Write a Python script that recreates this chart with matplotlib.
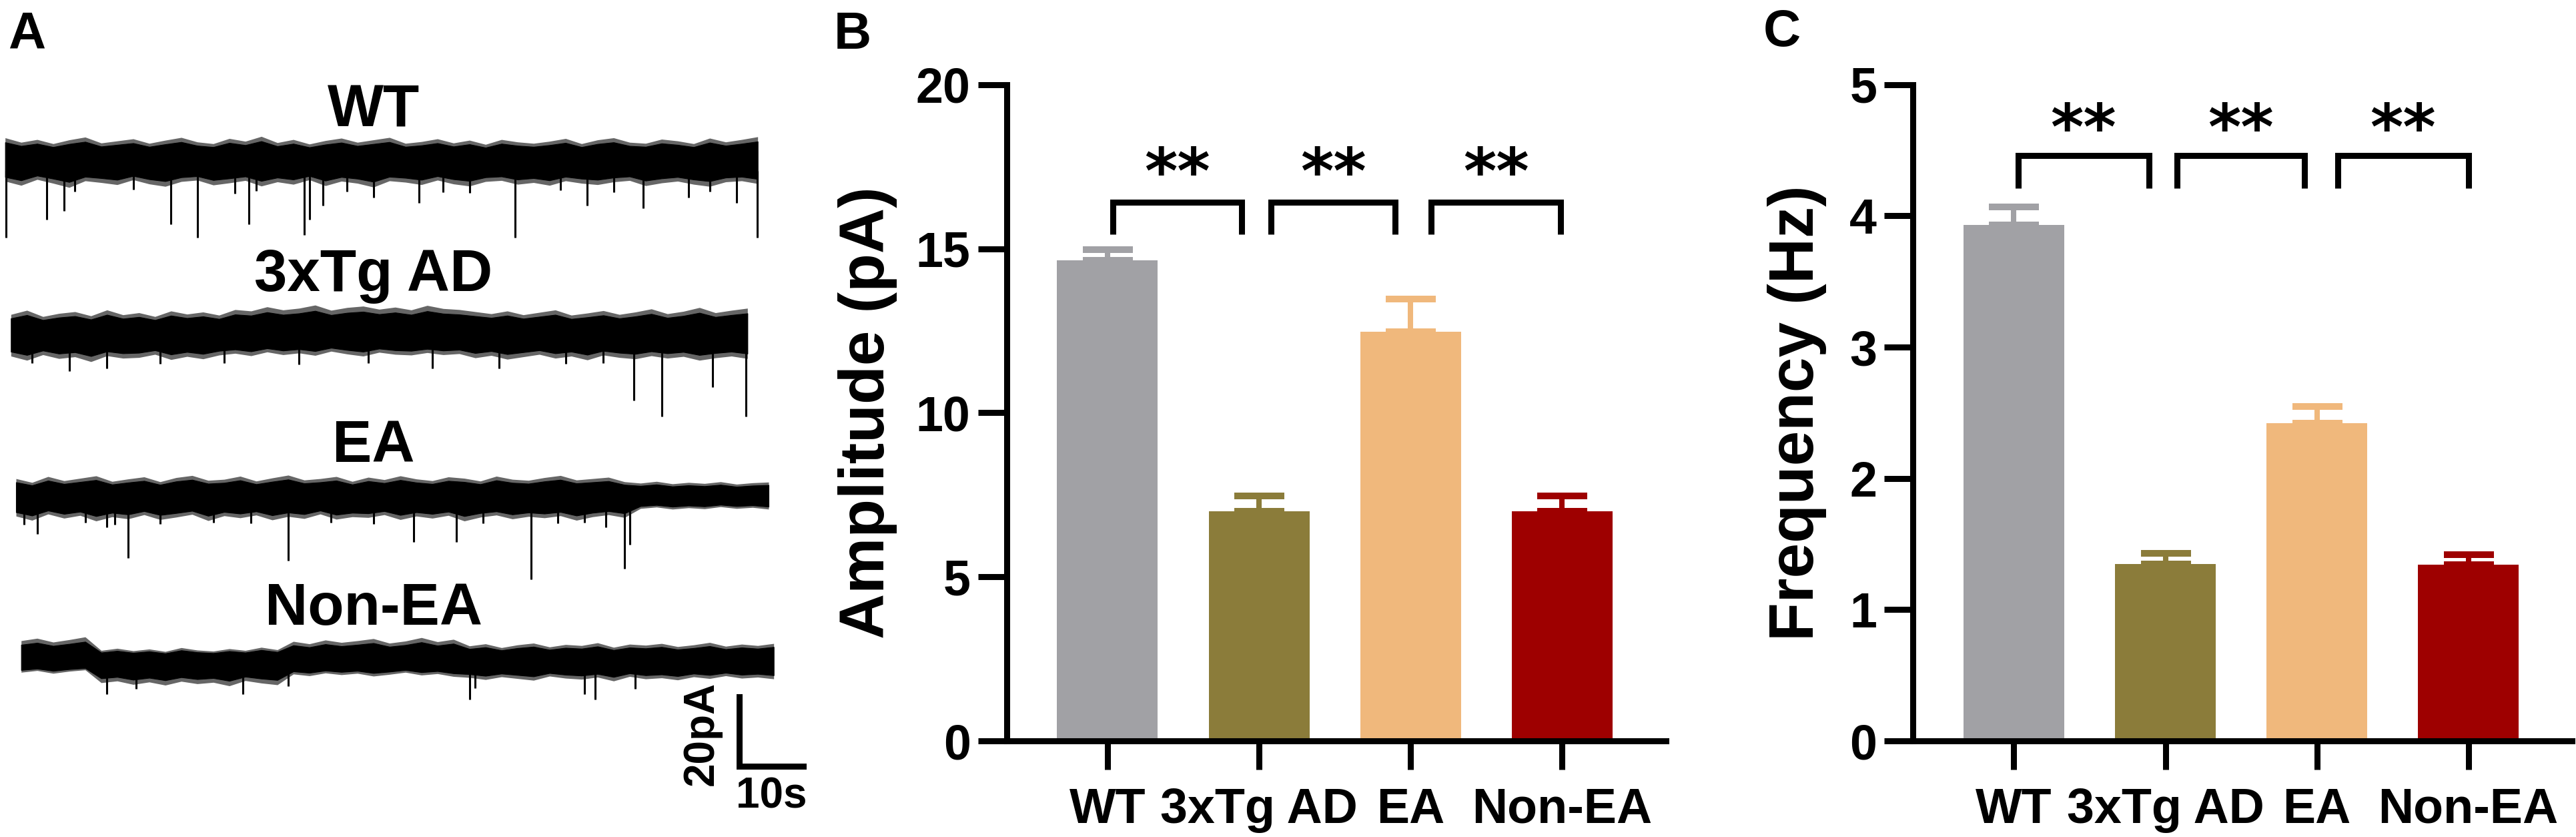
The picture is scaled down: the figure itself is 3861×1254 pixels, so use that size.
import matplotlib
matplotlib.use("Agg")
import matplotlib.pyplot as plt
import numpy as np

plt.rcParams['font.family'] = ['Liberation Sans', 'DejaVu Sans']
plt.rcParams['font.weight'] = 'bold'

# ---- panel B / C data ----
groups = ['WT', '3xTg AD', 'EA', 'Non-EA']
colors = ['#a1a1a5', '#8b7c3a', '#f0b87c', '#9e0000']

amp_mean = [14.64, 7.0, 12.47, 7.0]
amp_sem = [0.34, 0.46, 1.0, 0.46]
freq_mean = [3.93, 1.35, 2.42, 1.34]
freq_sem = [0.14, 0.08, 0.13, 0.08]

sig_pairs = [(0, 1), (1, 2), (2, 3)]
sig_text = ['**', '**', '**']

# ---- panel A traces (time in s, current in pA relative to baseline) ----
trace_names = ['WT', '3xTg AD', 'EA', 'Non-EA']
trace_t0 = [0.8, 1.7, 2.5, 3.3]
trace_dt = 2.5

wt_upper = [6.5, 5.2, 6.0, 4.8, 5.9, 6.7, 5.0, 5.6, 6.2, 4.9, 5.8, 6.6,
            5.3, 4.8, 6.3, 5.5, 6.9, 5.1, 6.0, 4.7, 5.7, 6.4, 5.2, 5.9,
            6.6, 4.9, 5.4, 6.2, 5.0, 5.8, 4.6, 6.0, 5.3, 4.9, 5.5, 6.3,
            4.8, 5.9, 6.5, 5.2, 4.9, 6.1, 5.6, 4.8, 6.4, 5.3, 6.0, 6.8]
wt_lower = [-6.0, -7.2, -5.5, -6.6, -7.8, -5.9, -6.4, -7.0, -5.6, -6.8, -7.5, -6.1,
            -5.7, -7.1, -6.5, -5.8, -7.4, -6.2, -6.9, -5.6, -7.3, -6.0, -6.6, -7.7,
            -5.9, -6.3, -7.0, -5.7, -6.8, -7.4, -6.1, -5.8, -6.9, -6.4, -7.2, -5.9,
            -6.6, -7.0, -6.2, -5.8, -7.3, -6.5, -6.0, -6.9, -7.5, -6.2, -5.9, -6.7]
wt_ev_t = [0.9, 7.3, 10.0, 11.7, 20.8, 26.7, 30.8, 36.7, 38.9, 40.0, 47.5, 48.3,
           50.4, 54.2, 58.3, 65.4, 69.2, 73.3, 80.4, 87.5, 91.7, 95.8, 100.4, 107.5,
           110.8, 115.0, 118.2]
wt_ev_amp = [22.3, 17.0, 14.6, 9.0, 8.5, 18.5, 22.3, 9.5, 18.5, 8.8, 21.5, 17.0,
             13.0, 9.0, 10.8, 12.3, 9.2, 9.3, 22.3, 8.7, 13.0, 9.2, 13.8, 10.8,
             9.0, 12.3, 22.3]

tg_upper = [5.6, 6.8, 5.0, 5.9, 6.4, 5.2, 6.9, 5.5, 6.1, 5.0, 6.6, 5.7,
            6.3, 5.4, 7.0, 6.6, 7.8, 6.9, 7.4, 8.3, 6.8, 7.6, 8.0, 7.1,
            7.7, 6.9, 8.2, 7.3, 7.0, 6.4, 5.8, 6.6, 5.5, 6.2, 6.9, 5.4,
            6.0, 6.7, 5.6, 6.3, 7.2, 5.8, 6.5, 7.6, 6.1, 6.8, 7.4]
tg_lower = [-6.4, -7.6, -6.0, -7.1, -6.6, -8.0, -6.3, -7.0, -6.8, -5.9, -7.4, -6.5,
            -7.2, -6.1, -5.6, -6.3, -5.2, -6.0, -5.5, -6.2, -5.0, -5.8, -6.4, -5.3,
            -5.9, -6.1, -5.4, -6.0, -5.7, -6.9, -6.2, -7.3, -6.6, -5.9, -7.0, -6.4,
            -7.5, -6.1, -6.8, -7.2, -6.3, -7.0, -6.5, -7.6, -6.9, -6.4, -7.1]
tg_ev_t = [5.0, 10.8, 16.7, 25.0, 35.0, 46.7, 57.5, 67.5, 77.9, 88.3, 94.2, 99.0,
           103.3, 111.3, 116.5]
tg_ev_amp = [8.5, 10.8, 10.0, 8.6, 8.4, 8.8, 8.5, 10.0, 10.0, 8.7, 8.5, 19.2,
             23.8, 15.4, 23.8]

ea_upper = [5.2, 4.1, 5.8, 4.6, 5.3, 6.0, 4.4, 5.1, 5.7, 4.3, 5.5, 6.1,
            4.7, 5.0, 5.9, 4.5, 5.4, 6.2, 4.8, 5.2, 5.8, 4.4, 5.6, 4.9,
            6.0, 5.1, 4.6, 5.7, 5.3, 4.5, 5.9, 5.0, 4.7, 5.5, 6.1, 4.8,
            5.2, 5.6, 4.3, 3.9, 4.4, 3.7, 4.1, 3.8, 4.3, 3.6, 4.0, 4.2]
ea_lower = [-5.6, -6.8, -5.0, -6.2, -5.4, -7.0, -5.8, -6.4, -5.2, -6.6, -5.9, -5.1,
            -6.9, -5.5, -6.1, -5.3, -6.7, -5.7, -6.3, -5.0, -6.5, -5.8, -6.0, -5.2,
            -6.6, -5.6, -6.2, -5.4, -7.0, -5.9, -5.3, -6.4, -5.7, -6.1, -5.5, -6.8,
            -5.8, -5.2, -6.0, -3.4, -3.0, -3.6, -3.2, -3.5, -2.9, -3.4, -3.1, -3.6]
ea_ev_t = [3.75, 5.8, 13.3, 16.7, 17.9, 20.0, 25.0, 33.3, 39.2, 45.0, 51.7, 58.3,
           64.6, 71.3, 75.4, 82.9, 87.1, 91.3, 94.6, 97.5, 98.3]
ea_ev_amp = [8.0, 10.8, 7.5, 8.9, 8.0, 17.7, 7.8, 7.4, 7.6, 18.5, 7.5, 7.8,
             13.0, 13.0, 7.6, 23.8, 7.7, 7.5, 8.9, 20.8, 13.8]

non_upper = [5.8, 6.5, 5.4, 6.1, 6.9, 3.0, 3.6, 2.9, 3.4, 2.7, 3.8, 3.1,
             2.8, 3.5, 3.0, 3.9, 3.2, 5.6, 4.9, 6.0, 5.3, 5.8, 6.4, 5.1,
             5.7, 6.7, 5.5, 6.2, 4.3, 4.9, 3.8, 4.6, 5.1, 4.0, 4.7, 4.4,
             5.2, 3.9, 4.8, 4.5, 5.0, 4.1, 4.6, 5.3, 4.2, 4.8, 4.4, 5.0]
non_lower = [-3.3, -2.8, -3.6, -3.0, -2.6, -6.3, -5.8, -6.8, -6.1, -7.0, -5.9, -6.6,
             -6.2, -7.2, -5.7, -6.4, -6.9, -3.8, -4.3, -3.5, -4.0, -3.6, -4.4, -3.9,
             -3.3, -4.1, -3.7, -4.5, -4.8, -5.4, -4.6, -5.1, -5.6, -4.4, -5.0, -5.3,
             -4.7, -5.8, -4.5, -5.2, -4.9, -5.5, -4.6, -5.1, -4.3, -5.0, -4.7, -5.2]
non_ev_t = [16.7, 21.3, 37.9, 45.0, 73.3, 74.2, 91.3, 92.9, 99.2]
non_ev_amp = [9.6, 8.0, 9.6, 7.3, 11.2, 7.9, 9.6, 11.2, 8.0]

trace_upper = [wt_upper, tg_upper, ea_upper, non_upper]
trace_lower = [wt_lower, tg_lower, ea_lower, non_lower]
trace_ev_t = [wt_ev_t, tg_ev_t, ea_ev_t, non_ev_t]
trace_ev_amp = [wt_ev_amp, tg_ev_amp, ea_ev_amp, non_ev_amp]

scale_pA = 20
scale_s = 10

# ---- figure ----
W, H = 3862, 1254
fig = plt.figure(figsize=(W / 100, H / 100), dpi=100)

# panel A: traces, drawn in (s, pA) with 9.6 px/s and 5.2 px/pA
axA = fig.add_axes([0, 0, 1254 / W, 1])
axA.set_xlim(0, 1254 / 9.6)
axA.set_ylim(-1254 / 5.2, 0)
axA.axis('off')

base_y = [-46.2, -96.2, -143.1, -190.4]
name_y = [-36.5, -83.8, -133.1, -180.0]
for k in range(4):
    up = np.array(trace_upper[k])
    lo = np.array(trace_lower[k])
    t = trace_t0[k] + trace_dt * np.arange(len(up))
    # noisy fringe, then the dense core of the recording
    axA.fill_between(t, base_y[k] + lo, base_y[k] + up, color='black',
                     alpha=0.6, lw=0)
    axA.fill_between(t, base_y[k] + 0.8 * lo, base_y[k] + 0.8 * up,
                     color='black', lw=0.8)
    ev_t = np.array(trace_ev_t[k])
    ev_a = np.array(trace_ev_amp[k])
    axA.vlines(ev_t, base_y[k] - 3, base_y[k] - ev_a, color='black', lw=2.2)
    axA.text(58.3, name_y[k], trace_names[k], fontsize=64, fontweight='bold',
             ha='center', va='baseline')

sx, sy = 115.4, -220.8
axA.plot([sx, sx, sx + scale_s], [sy + scale_pA, sy, sy], color='black',
         lw=6.5, solid_joinstyle='miter', solid_capstyle='projecting')
axA.text(sx - 5.8, sy + scale_pA / 2 - 0.6, f'{scale_pA}pA', rotation=90,
         fontsize=46, fontweight='bold', ha='center', va='center')
axA.text(sx + scale_s / 2, sy - 8.8, f'{scale_s}s', fontsize=46,
         fontweight='bold', ha='center', va='center')


def bar_panel(ax, means, sems, ymax, step, ylabel, br_x, br_y, star_y, lab_x):
    x = np.arange(len(groups))
    ax.bar(x, means, width=0.665, color=colors, zorder=2)
    for xi, m, s, c in zip(x, means, sems, colors):
        ax.errorbar(xi, m, yerr=[[0], [s]], color=c, elinewidth=5.8,
                    capsize=27, capthick=7.2, zorder=1.5)
    for (i, j), (x0, x1), txt in zip(sig_pairs, br_x, sig_text):
        ax.plot([x0, x0, x1, x1], [br_y[0], br_y[1], br_y[1], br_y[0]],
                color='black', lw=6.5, solid_joinstyle='miter',
                solid_capstyle='butt', clip_on=False)
        ax.annotate(txt, ((x0 + x1) / 2, star_y), xytext=(0, -37),
                    textcoords='offset points', family=['DejaVu Sans'],
                    fontsize=68, fontweight='bold', ha='center', va='baseline')
    ax.set_xlim(-0.666, 3.686)
    ax.set_ylim(0, ymax)
    ax.set_yticks(np.arange(0, ymax + step / 2, step))
    ax.set_xticks(x)
    ax.set_xticklabels(groups)
    for side in ['top', 'right']:
        ax.spines[side].set_visible(False)
    for side in ['left', 'bottom']:
        ax.spines[side].set_linewidth(6.5)
        ax.spines[side].set_capstyle('projecting')
        ax.spines[side].set_zorder(3)
    ax.tick_params(axis='both', length=31, width=6.5, direction='out',
                   labelsize=53)
    ax.tick_params(axis='y', pad=8)
    ax.tick_params(axis='x', pad=18.5)
    for lab in ax.get_xticklabels() + ax.get_yticklabels():
        lab.set_fontweight('bold')
    ax.set_ylabel(ylabel, fontsize=68, fontweight='bold')
    ax.yaxis.set_label_coords(lab_x, 0.5)


ax_bottom = 1 - 1110 / H
ax_height = (1110 - 126.7) / H
axB = fig.add_axes([1508.7 / W, ax_bottom, 988.3 / W, ax_height])
bar_panel(axB, amp_mean, amp_sem, 20, 5, 'Amplitude (pA)',
          [(0.035, 0.884), (1.078, 1.90), (2.137, 2.99)], (15.43, 16.42),
          17.75, -0.1656)

axC = fig.add_axes([2867.3 / W, ax_bottom, 988.0 / W, ax_height])
bar_panel(axC, freq_mean, freq_sem, 5, 1, 'Frequency (Hz)',
          [(0.03, 0.89), (1.075, 1.92), (2.14, 3.0)], (4.21, 4.46),
          4.77, -0.1309)

# panel letters
for letter, px, py in [('A', 12, 16), ('B', 1250, 16), ('C', 2643, 12)]:
    fig.text(px / W, 1 - py / H, letter, fontsize=56, fontweight='bold',
             ha='left', va='top')

fig.savefig('out.png', dpi=100)
